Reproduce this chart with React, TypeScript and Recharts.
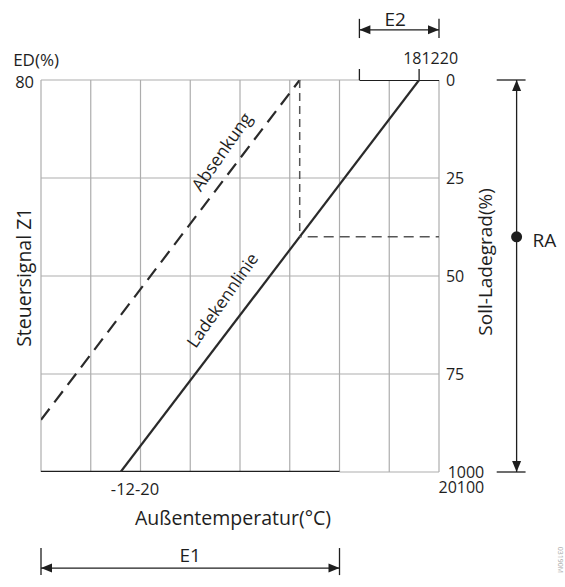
import { LineChart, Line, XAxis, YAxis, ReferenceLine, ReferenceDot } from "recharts"

// Außentemperatur (°C) grid and Soll-Ladegrad (%) grid
const tempTicks = [-20, -15, -10, -5, 0, 5, 10, 15, 20]
const sollTicks = [0, 25, 50, 75]
const rightTickLabels = ["0", "25", "50", "75"]
const cornerLabels = ["1000", "20100"]

// characteristic lines
const ladekennlinie = [
  { t: -12, soll: 100 },
  { t: 18, soll: 0 },
]
const absenkung = [
  { t: -20, soll: 86.7 },
  { t: 6, soll: 0 },
]
const raDrop = [
  { t: 6, soll: 0 },
  { t: 6, soll: 40 },
]
const raLevelLine = [
  { t: 6, soll: 40 },
  { t: 20, soll: 40 },
]
const e1Range = [-20, 10]
const e2Range = [12, 20]
const topMarks = [12, 18]
const raLevel = 40

const FONT = "'Open Sans', sans-serif"
const INK = "#1e1e1e"
const GRID = "#adadad"

function textShape(text: string, opts: { anchor?: string; rotate?: number; size?: number; fill?: string } = {}) {
  const { anchor = "middle", rotate = 0, size = 17, fill = INK } = opts
  return (p: any) => (
    <text
      x={p.cx}
      y={p.cy}
      textAnchor={anchor}
      dominantBaseline="central"
      fontFamily={FONT}
      fontSize={size}
      fill={fill}
      transform={rotate ? `rotate(${rotate} ${p.cx} ${p.cy})` : undefined}
    >
      {text}
    </text>
  )
}

// two stacked lines in one text element, right aligned
function stackedShape(lines: string[], size: number, gap: number) {
  return (p: any) => (
    <text x={p.cx} y={p.cy} textAnchor="end" dominantBaseline="central" fontFamily={FONT} fontSize={size} fill={INK}>
      {lines.map((l, i) => (
        <tspan key={l} x={p.cx} dy={i === 0 ? 0 : gap}>
          {l}
        </tspan>
      ))}
    </text>
  )
}

function arrowShape(p: any) {
  const { x1, y1, x2, y2 } = p
  const len = Math.hypot(x2 - x1, y2 - y1) || 1
  const ux = (x2 - x1) / len
  const uy = (y2 - y1) / len
  const head = (x: number, y: number, dir: number) => {
    const bx = x - dir * ux * 11
    const by = y - dir * uy * 11
    return `${x},${y} ${bx - uy * 4.5},${by + ux * 4.5} ${bx + uy * 4.5},${by - ux * 4.5}`
  }
  return (
    <g>
      <line x1={x1} y1={y1} x2={x2} y2={y2} stroke={INK} strokeWidth={1.3} />
      <polygon points={head(x1, y1, -1)} fill={INK} />
      <polygon points={head(x2, y2, 1)} fill={INK} />
    </g>
  )
}

const tick = { stroke: INK, strokeWidth: 1.3, ifOverflow: "visible" as const }

export default function App() {
  return (
    <div style={{ width: 565, height: 587, background: "#fff" }}>
      <style>{`body{margin:0}`}</style>
      <LineChart width={565} height={587} margin={{ top: 80, right: 126, bottom: 115, left: 41 }}>
        <XAxis type="number" dataKey="t" domain={[-20, 20]} hide allowDataOverflow />
        <YAxis type="number" dataKey="soll" domain={[0, 100]} reversed hide allowDataOverflow />

        {/* grid */}
        {tempTicks.map((t) => (
          <ReferenceLine key={`v${t}`} x={t} stroke={GRID} strokeWidth={1.2} />
        ))}
        {sollTicks.slice(1).map((s) => (
          <ReferenceLine key={`h${s}`} y={s} stroke={GRID} strokeWidth={1.2} />
        ))}
        <ReferenceLine segment={[{ x: -20, y: 0 }, { x: e2Range[0], y: 0 }]} stroke={GRID} strokeWidth={1.2} />
        <ReferenceLine segment={[{ x: e1Range[1], y: 100 }, { x: 20, y: 100 }]} stroke={GRID} strokeWidth={1.2} />

        {/* thick ranges on the frame */}
        <Line data={e1Range.map((t) => ({ t, soll: 100 }))} dataKey="soll" stroke={INK} strokeWidth={2.6} dot={false} isAnimationActive={false} />
        <Line data={e2Range.map((t) => ({ t, soll: 0 }))} dataKey="soll" stroke={INK} strokeWidth={2.2} dot={false} isAnimationActive={false} />

        {/* characteristic lines */}
        <Line data={ladekennlinie} dataKey="soll" stroke="#2a2a2a" strokeWidth={2.2} dot={false} isAnimationActive={false} />
        <Line data={absenkung} dataKey="soll" stroke="#2a2a2a" strokeWidth={2.2} strokeDasharray="14 8" dot={false} isAnimationActive={false} />
        <Line data={raDrop} dataKey="soll" stroke="#555" strokeWidth={1.5} strokeDasharray="8 5" dot={false} isAnimationActive={false} />
        <Line data={raLevelLine} dataKey="soll" stroke="#555" strokeWidth={1.5} strokeDasharray="10 6" strokeDashoffset={-8} dot={false} isAnimationActive={false} />

        {/* bracket ticks above the top frame */}
        {topMarks.map((t) => (
          <ReferenceLine key={`tm${t}`} segment={[{ x: t, y: -2.8 }, { x: t, y: 0 }]} {...tick} />
        ))}

        {/* E2 dimension */}
        <ReferenceLine segment={[{ x: e2Range[0], y: -12.8 }, { x: e2Range[1], y: -12.8 }]} ifOverflow="visible" shape={arrowShape} />
        {e2Range.map((t) => (
          <ReferenceLine key={`e2${t}`} segment={[{ x: t, y: -15.6 }, { x: t, y: -10.7 }]} {...tick} />
        ))}

        {/* E1 dimension */}
        <ReferenceLine segment={[{ x: e1Range[0], y: 124.5 }, { x: e1Range[1], y: 124.5 }]} ifOverflow="visible" shape={arrowShape} />
        {e1Range.map((t) => (
          <ReferenceLine key={`e1${t}`} segment={[{ x: t, y: 119.4 }, { x: t, y: 126.3 }]} {...tick} />
        ))}

        {/* RA dimension */}
        <ReferenceLine segment={[{ x: 27.8, y: 0 }, { x: 27.8, y: 100 }]} ifOverflow="visible" shape={arrowShape} />
        {[0, 100].map((s) => (
          <ReferenceLine key={`ra${s}`} segment={[{ x: 25.8, y: s }, { x: 28.7, y: s }]} {...tick} />
        ))}
        <ReferenceDot x={27.8} y={raLevel} r={5.5} fill={INK} stroke="none" ifOverflow="visible" />

        {/* right axis labels */}
        {sollTicks.map((s, i) => (
          <ReferenceDot key={`rl${s}`} x={20.7} y={s} ifOverflow="visible" shape={textShape(rightTickLabels[i], { anchor: "start", size: 16 })} />
        ))}
        <ReferenceDot x={24.55} y={100} ifOverflow="visible" shape={stackedShape(cornerLabels, 16, 15)} />

        {/* left / top / bottom labels */}
        <ReferenceDot x={-20.7} y={0.3} ifOverflow="visible" shape={textShape("80", { anchor: "end", size: 16.5 })} />
        <ReferenceDot x={-22.8} y={-5.3} ifOverflow="visible" shape={textShape("ED(%)", { anchor: "start", size: 17 })} />
        <ReferenceDot x={16.4} y={-5.7} ifOverflow="visible" shape={textShape("181220", { anchor: "start", size: 16 })} />
        <ReferenceDot x={-10.55} y={104.1} ifOverflow="visible" shape={textShape("-12-20", { size: 16.5 })} />

        {/* titles */}
        <ReferenceDot x={-0.7} y={111.5} ifOverflow="visible" shape={textShape("Außentemperatur(°C)", { size: 19.5 })} />
        <ReferenceDot x={-21.8} y={50.3} ifOverflow="visible" shape={textShape("Steuersignal Z1", { size: 19.5, rotate: -90 })} />
        <ReferenceDot x={24.6} y={46.4} ifOverflow="visible" shape={textShape("Soll-Ladegrad(%)", { size: 19, rotate: -90 })} />
        <ReferenceDot x={-5} y={121.2} ifOverflow="visible" shape={textShape("E1", { size: 19 })} />
        <ReferenceDot x={15.6} y={-15.6} ifOverflow="visible" shape={textShape("E2", { size: 19 })} />
        <ReferenceDot x={29.4} y={40.8} ifOverflow="visible" shape={textShape("RA", { anchor: "start", size: 19 })} />

        {/* line captions */}
        <ReferenceDot x={-1.9} y={18.2} ifOverflow="visible" shape={textShape("Absenkung", { size: 17.5, rotate: -55 })} />
        <ReferenceDot x={-1.8} y={56.1} ifOverflow="visible" shape={textShape("Ladekennlinie", { size: 17, rotate: -55 })} />

        {/* drawing id */}
        <ReferenceDot x={32.2} y={122.4} ifOverflow="visible" shape={textShape("03190M", { size: 7, rotate: 90, fill: "#aaa" })} />
      </LineChart>
    </div>
  )
}
